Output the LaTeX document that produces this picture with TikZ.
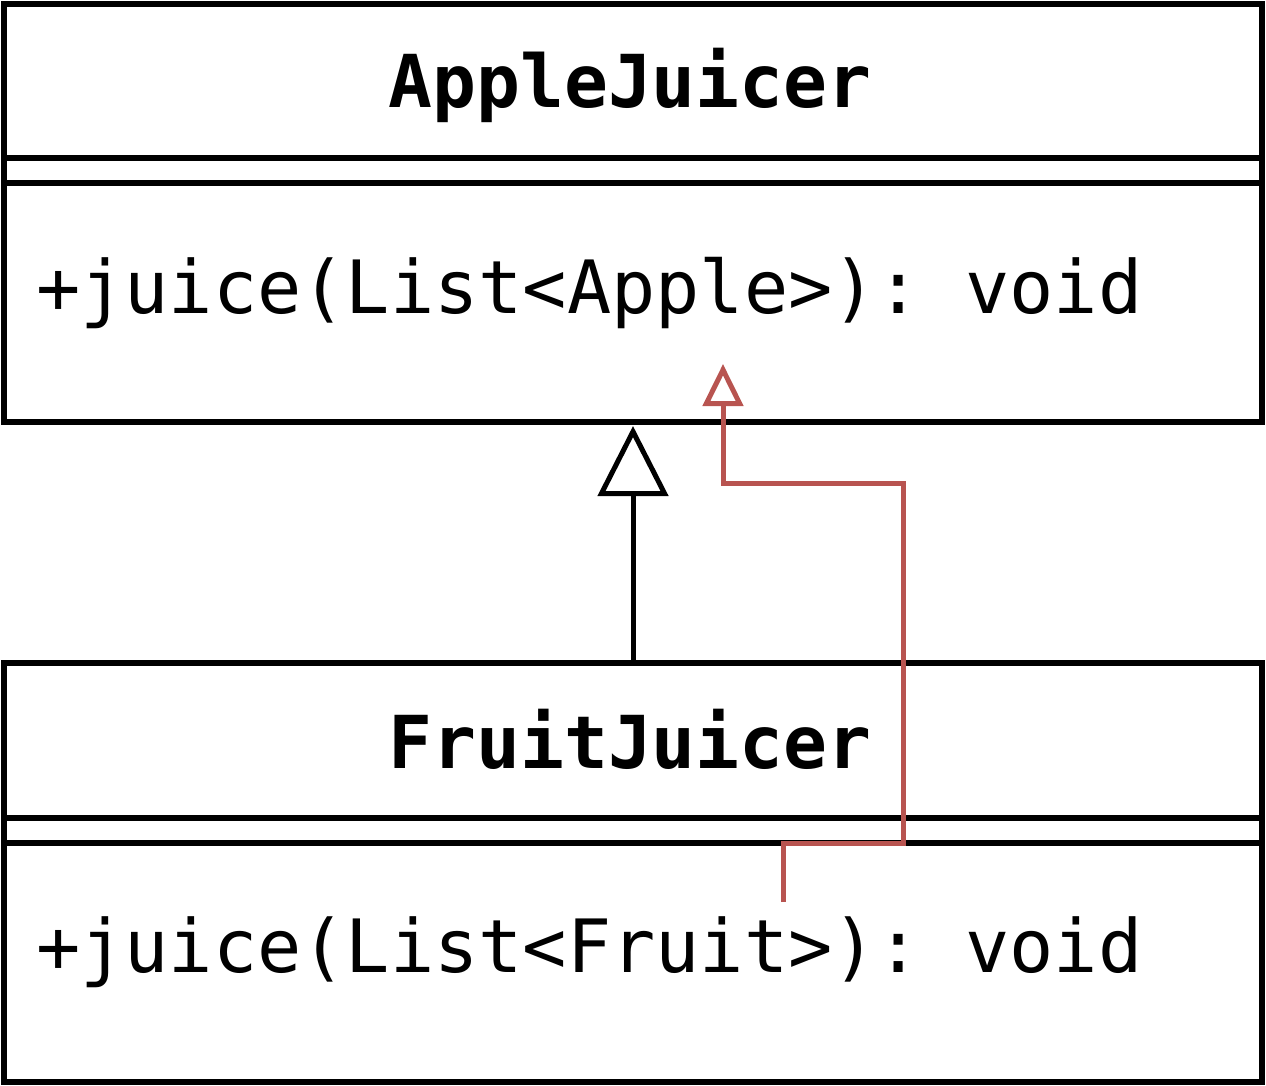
\documentclass[tikz,border=0pt]{standalone}
\usepackage{fontspec}
\setmonofont{DejaVu Sans Mono}
\usetikzlibrary{arrows.meta}
\definecolor{relred}{HTML}{B85450}
\tikzset{
  classbox/.style={draw=black, line width=5.5pt, minimum width=1258pt, inner sep=0pt, outer sep=0pt},
  sepline/.style={draw=black, line width=5.5pt},
  titletext/.style={font=\ttfamily\bfseries\fontsize{73}{80}\selectfont, inner sep=0pt},
  methodtext/.style={font=\ttfamily\fontsize{73.5}{80}\selectfont, inner sep=0pt},
  inherit/.style={draw=black, line width=5pt, -{Triangle[open, length=70pt, width=70pt, line width=5pt]}},
  relarrow/.style={draw=relred, line width=5pt, -{Triangle[open, length=42pt, width=40pt, line width=5pt]}}
}
\begin{document}
\begin{tikzpicture}[x=1pt, y=-1pt]
\useasboundingbox (0,0) rectangle (1266,1086);
% AppleJuicer class
\node[classbox, minimum height=418pt, anchor=north west] (ajbox) at (4,4) {};
\draw[sepline] (ajbox.west |- 0,158) -- (ajbox.east |- 0,158);
\draw[sepline] (ajbox.west |- 0,183) -- (ajbox.east |- 0,183);
\node[titletext, anchor=base] (ajtitle) at (630,108) {AppleJuicer};
\node[methodtext, anchor=base west] (ajmethod) at (36,313) {+juice(List<Apple>): void};
% FruitJuicer class
\node[classbox, minimum height=419pt, anchor=north west] (fjbox) at (4,663) {};
\draw[sepline] (fjbox.west |- 0,818) -- (fjbox.east |- 0,818);
\draw[sepline] (fjbox.west |- 0,843) -- (fjbox.east |- 0,843);
\node[titletext, anchor=base] (fjtitle) at (630,768) {FruitJuicer};
\node[methodtext, anchor=base west] (fjmethod) at (36,972) {+juice(List<Fruit>): void};
% inheritance arrow
\draw[inherit, shorten >=4pt] (fjbox.north) -- (ajbox.south);
% red relation
\coordinate (rstart) at (783,902);
\coordinate (rtip) at (723,364);
\draw[relarrow] (rstart) -- (783,843) -- (903,843) -- (903,483) -- (723,483) -- (rtip);
\end{tikzpicture}
\end{document}
